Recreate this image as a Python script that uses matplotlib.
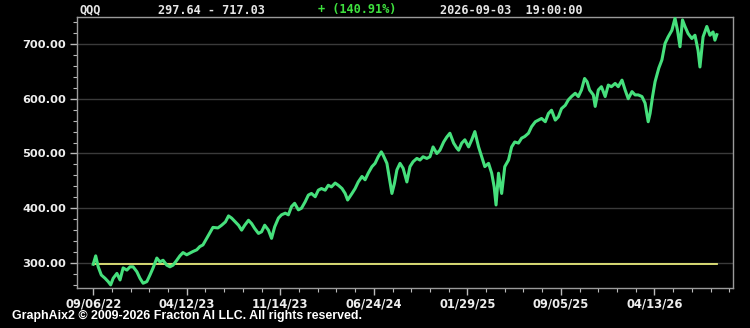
import matplotlib
matplotlib.use("Agg")
import matplotlib.pyplot as plt
from matplotlib.ticker import MultipleLocator, FixedLocator

# ---- data (bar index = trading-day index from 2022-09-06) ----
bars = [0, 4, 8, 13, 19, 24, 28, 32, 38, 43, 48, 54, 59, 64, 70, 75, 80, 86, 91, 96,
        102, 107, 112, 118, 123, 128, 134, 139, 144, 150, 155, 160, 166, 171, 176, 182, 187, 192,
        200, 206, 212, 217, 222, 228, 233, 238, 243, 249, 254, 259, 265, 270, 275, 281, 286,
        291, 297, 302, 308, 313, 318, 323, 329, 334, 340, 345, 350, 356, 361, 366, 372, 377,
        382, 388, 393, 399, 404, 408, 415, 420, 425, 431, 436, 441, 447, 452, 457, 462, 465,
        471, 474, 479, 483, 487, 492, 497, 503, 508, 513, 519, 524, 529, 535, 540, 545, 551,
        556, 562, 567, 572, 578, 583, 586, 591, 596, 602, 607, 612, 618, 623, 628, 634, 639,
        643, 646, 650, 655, 660, 666, 671, 676, 682, 687, 692, 698, 703, 709, 714, 719, 725,
        730, 735, 741, 746, 751, 757, 762, 767, 773, 778, 783, 788, 792, 796, 802, 805, 810,
        815, 821, 826, 831, 837, 842, 848, 853, 858, 864, 869, 874, 880, 885, 890, 893, 897,
        901, 907, 912, 917, 922, 928, 933, 937, 941, 945, 949, 954, 960, 965, 970, 973, 978,
        984, 989, 994, 997, 1000]
prices = [297.64, 313, 293, 278, 272, 266, 260, 272, 281, 269, 291, 287, 293, 293, 284, 272, 263, 266, 278, 291,
          309, 302, 305, 296, 293, 296, 305, 313, 319, 315, 318, 321, 324, 330, 333, 345, 355, 365,
          364, 369, 375, 386, 382, 375, 369, 360, 369, 378, 372, 363, 354, 357, 369, 360, 345,
          366, 382, 388, 391, 388, 403, 409, 397, 400, 412, 424, 427, 421, 433, 436, 433, 442,
          439, 446, 442, 436, 427, 415, 427, 436, 448, 458, 452, 464, 476, 482, 494, 503, 497,
          482, 461, 427, 445, 470, 482, 473, 448, 476, 485, 491, 488, 494, 491, 494, 512, 500,
          506, 521, 530, 537, 519, 510, 506, 519, 525, 512, 525, 540, 512, 494, 476, 482, 464,
          439, 406, 464, 427, 476, 488, 512, 521, 519, 528, 531, 537, 549, 558, 561, 564, 558,
          573, 579, 561, 567, 582, 588, 598, 604, 610, 604, 616, 637, 631, 616, 607, 586, 616,
          622, 604, 625, 622, 628, 622, 634, 616, 600, 613, 607, 607, 604, 592, 558, 573, 604,
          631, 656, 671, 701, 713, 725, 747, 725, 695, 744, 732, 719, 710, 716, 688, 658, 713,
          732, 716, 722, 707, 717.03]

tick_bars = [0, 150, 300, 450, 600, 750, 900]
tick_labels = ["09/06/22", "04/12/23", "11/14/23", "06/24/24", "01/29/25", "09/05/25", "04/13/26"]
y_ticks = [300, 400, 500, 600, 700]

symbol = "QQQ"
range_text = "297.64 - 717.03"
change_text = "+ (140.91%)"
time_text = "2026-09-03  19:00:00"
footer = "GraphAix2 \u00a9 2009-2026 Fracton AI LLC. All rights reserved."

# ---- figure ----
fig = plt.figure(figsize=(7.5, 3.28), dpi=100, facecolor="black")
ax = fig.add_axes([77/750, 1-288/328, (733-77)/750, (288-17)/328], facecolor="black")

ax.plot(bars, prices, color="#46e07c", lw=2.2, solid_joinstyle="round", zorder=3)
ax.plot([bars[0], bars[-1]], [prices[0], prices[0]], color="#e6e87a", lw=1.3, zorder=2)

ax.set_xlim(-26, 1026)
ax.set_ylim(254.3, 749.3)

ax.xaxis.set_major_locator(FixedLocator(tick_bars))
ax.set_xticklabels(tick_labels)
ax.xaxis.set_minor_locator(MultipleLocator(30))
ax.set_yticks(y_ticks)
ax.set_yticklabels([f"{v:.2f}" for v in y_ticks])
ax.yaxis.set_minor_locator(MultipleLocator(20))

for sp in ax.spines.values():
    sp.set_color("#9a9a9a")
    sp.set_linewidth(1.0)

ax.tick_params(axis="both", which="major", colors="#bbbbbb", length=5, width=1,
               labelcolor="#eeeeee")
ax.tick_params(axis="x", which="major", labelsize=8.3, pad=2)
ax.tick_params(axis="y", which="major", labelsize=8.2, pad=3)
ax.tick_params(axis="both", which="minor", colors="#bbbbbb", length=3, width=0.8)
for lab in ax.get_xticklabels() + ax.get_yticklabels():
    lab.set_fontweight("bold")

ax.grid(axis="y", which="major", color="#3a3a3a", lw=1.0, zorder=0)
ax.set_axisbelow(True)

mono = dict(family="DejaVu Sans Mono", fontweight="bold", fontsize=8.6, va="center")
fig.text(79/750, 1-10/328, symbol, color="#e6e6e6", **mono)
fig.text(158/750, 1-10/328, range_text, color="#e6e6e6", **mono)
fig.text(318/750, 1-10/328, change_text, color="#3ee03e", **mono)
fig.text(440/750, 1-10/328, time_text, color="#e6e6e6", **mono)

fig.text(12/750, 1-316/328, footer, color="white", fontsize=8.9, fontweight="bold",
         family=["Liberation Sans", "DejaVu Sans"], va="center")

fig.savefig("out.png", dpi=100, facecolor="black")
